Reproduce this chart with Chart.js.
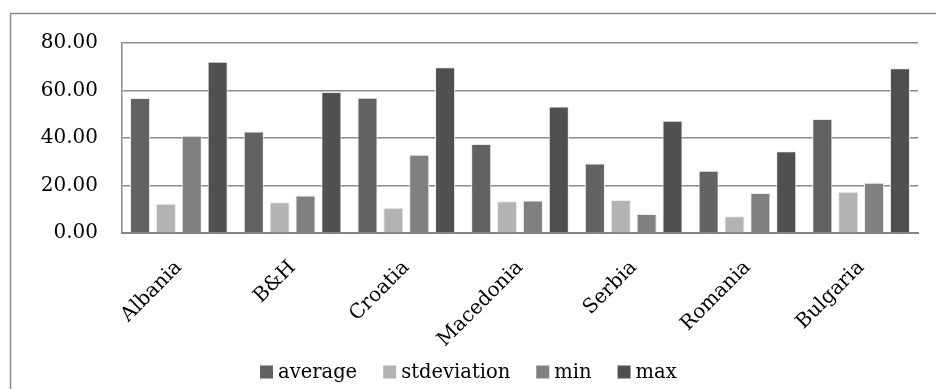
<!DOCTYPE html>
<html>
<head>
<meta charset="utf-8">
<script src="https://cdn.jsdelivr.net/npm/chart.js@4/dist/chart.umd.min.js"></script>
<style>
  html, body { margin: 0; padding: 0; background: #ffffff; overflow: hidden; }
  #wrap { position: relative; width: 936px; height: 389px; }
  canvas { display: block; }
</style>
</head>
<body>
<div id="wrap"><canvas id="chart" width="936" height="389"></canvas></div>
<script>
// Countries on the category axis
const countries = ['Albania', 'B&H', 'Croatia', 'Macedonia', 'Serbia', 'Romania', 'Bulgaria'];

// Summary statistics per country
const averageValues = [56.8, 42.7, 57.0, 37.5, 29.3, 26.2, 48.0];
const stdevValues   = [12.3, 13.0, 10.6, 13.4, 13.9, 7.1, 17.4];
const minValues     = [41.0, 15.8, 33.0, 13.7, 8.0, 16.8, 21.2];
const maxValues     = [72.1, 59.4, 69.8, 53.3, 47.3, 34.4, 69.4];

// Value axis ticks
const yTicks = [0, 20, 40, 60, 80];

const FONT = '"DejaVu Serif", serif';

// Left/top frame around the whole chart
const framePlugin = {
  id: 'frame',
  beforeDraw(chart) {
    const ctx = chart.ctx;
    ctx.save();
    ctx.strokeStyle = '#8c8c8c';
    ctx.lineWidth = 1.5;
    ctx.beginPath();
    ctx.moveTo(10.5, chart.height);
    ctx.lineTo(10.5, 13.5);
    ctx.lineTo(chart.width, 13.5);
    ctx.stroke();
    ctx.restore();
  }
};

// Compact legend drawn below the rotated labels
const bottomLegend = {
  id: 'bottomLegend',
  afterDraw(chart) {
    const ctx = chart.ctx;
    const box = 13, gap = 5, spacing = 26, cy = 372;
    ctx.save();
    ctx.font = '19.5px ' + FONT;
    ctx.textBaseline = 'middle';
    const items = chart.data.datasets.map(ds => ({
      label: ds.label, color: ds.backgroundColor, w: ctx.measureText(ds.label).width
    }));
    const total = items.reduce((s, it) => s + box + gap + it.w, 0) + spacing * (items.length - 1);
    let x = Math.round(chart.width / 2 - total / 2);
    items.forEach(it => {
      ctx.fillStyle = it.color;
      ctx.fillRect(x, cy - box / 2, box, box);
      ctx.fillStyle = '#000000';
      ctx.fillText(it.label, x + box + gap, cy + 1);
      x += box + gap + it.w + spacing;
    });
    ctx.restore();
  }
};

const ds = (label, data, color) => ({
  label, data,
  backgroundColor: color,
  borderColor: '#ececec',
  borderWidth: 1,
  categoryPercentage: 0.91,
  barPercentage: 0.775
});

new Chart(document.getElementById('chart'), {
  type: 'bar',
  data: {
    labels: countries,
    datasets: [
      ds('average', averageValues, '#626262'),
      ds('stdeviation', stdevValues, '#b3b3b3'),
      ds('min', minValues, '#808080'),
      ds('max', maxValues, '#505050')
    ]
  },
  options: {
    responsive: false,
    animation: false,
    devicePixelRatio: 1,
    layout: { padding: { left: 0, top: 43, right: 18, bottom: 0 } },
    plugins: {
      legend: { display: false },
      tooltip: { enabled: false }
    },
    scales: {
      x: {
        grid: { display: false, drawTicks: false },
        border: { display: true, color: '#868686', width: 2 },
        ticks: {
          color: '#000000',
          font: { family: FONT, size: 20 },
          minRotation: 45,
          maxRotation: 45,
          padding: 23
        },
        afterFit(scale) { scale.height = 156; }
      },
      y: {
        min: 0,
        max: 80,
        afterBuildTicks(scale) { scale.ticks = yTicks.map(v => ({ value: v })); },
        grid: { color: '#8c8c8c', lineWidth: 1.5, drawTicks: false },
        border: { display: true, color: '#8c8c8c', width: 1.5 },
        ticks: {
          color: '#000000',
          font: { family: FONT, size: 20 },
          padding: 24,
          callback: v => Number(v).toFixed(2)
        },
        afterFit(scale) { scale.width = 122; }
      }
    }
  },
  plugins: [framePlugin, bottomLegend]
});
</script>
</body>
</html>
